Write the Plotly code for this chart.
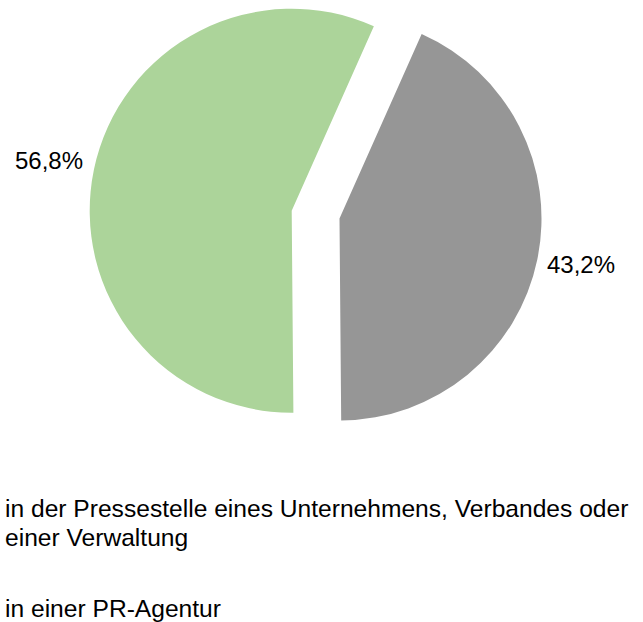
import plotly.graph_objects as go

labels = ["in einer PR-Agentur",
          "in der Pressestelle eines Unternehmens, Verbandes oder einer Verwaltung"]
values = [43.2, 56.8]
value_text = ["43,2%", "56,8%"]
colors = ["#969696", "#acd49a"]
legend_lines = [
    ["in der Pressestelle eines Unternehmens, Verbandes oder", "einer Verwaltung"],
    ["in einer PR-Agentur"],
]

W, H = 643, 622

def dom(cx, cy, r):
    return dict(x=[max(0, (cx - r) / W), min(1, (cx + r) / W)],
                y=[max(0, 1 - (cy + r) / H), min(1, 1 - (cy - r) / H)])

# each slice drawn as its own (exploded) pie, the other slice transparent
centers = [(339.5, 218.5), (291.7, 210.7)]
R = 202

fig = go.Figure()
for i in range(2):
    cols = ["rgba(0,0,0,0)"] * 2
    cols[i] = colors[i]
    fig.add_trace(go.Pie(
        labels=labels,
        values=values,
        sort=False,
        direction="clockwise",
        rotation=24,
        marker=dict(colors=cols, line=dict(width=0)),
        textinfo="none",
        domain=dom(centers[i][0], centers[i][1], R),
        showlegend=False,
        hoverinfo="skip",
    ))

FONT = "Liberation Sans, Arial, sans-serif"
annotations = []
# value labels outside the slices
label_pos = [(580.8, 264.9), (49.0, 160.9)]
for t, (x, y) in zip(value_text, label_pos):
    annotations.append(dict(
        text=t, x=x / W, y=1 - y / H, xref="paper", yref="paper",
        xanchor="center", yanchor="middle", showarrow=False,
        font=dict(family=FONT, size=24, color="#000000"),
    ))

# legend text
ys = [[508.5, 537.5], [608.0]]
for lines, yy in zip(legend_lines, ys):
    for line, y in zip(lines, yy):
        annotations.append(dict(
            text=line, x=3 / W, y=1 - y / H, xref="paper", yref="paper",
            xanchor="left", yanchor="middle", showarrow=False, align="left",
            font=dict(family=FONT, size=24.6, color="#000000"),
        ))

fig.update_layout(
    width=W, height=H,
    margin=dict(l=0, r=0, t=0, b=0),
    paper_bgcolor="white",
    plot_bgcolor="white",
    annotations=annotations,
)

fig.write_html("out.html",
               config={"displayModeBar": False},
               post_script="document.body.style.margin='0';document.body.style.padding='0';")
